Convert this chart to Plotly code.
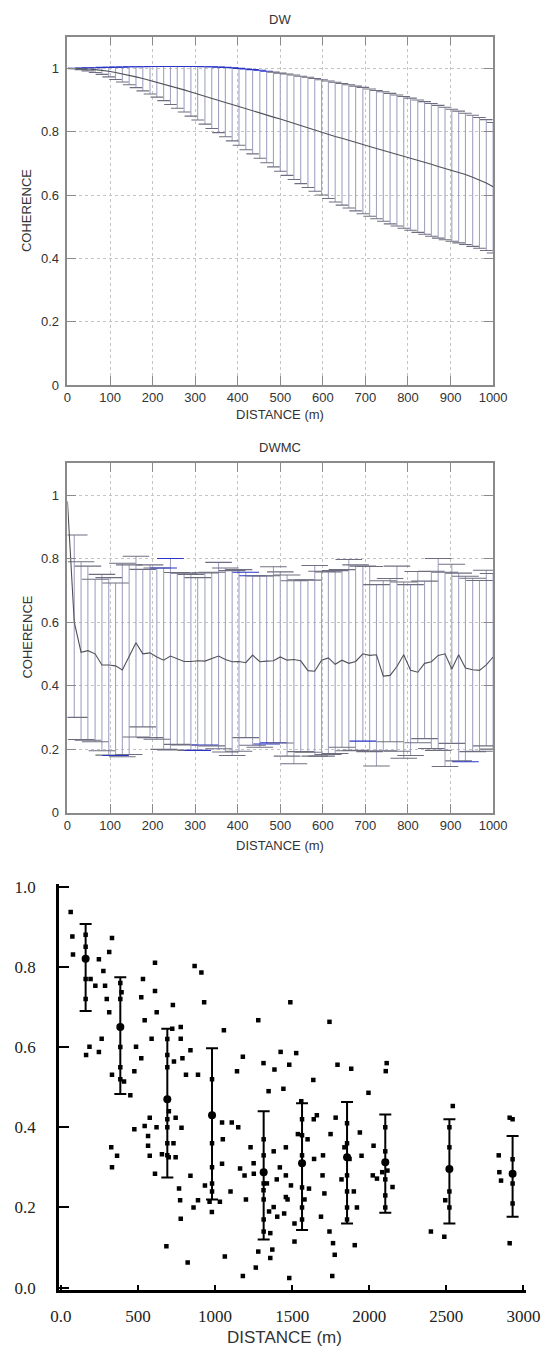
import plotly.graph_objects as go

W, H = 557, 1362

# ---------------- data ----------------
distance = [0, 16, 32, 48, 65, 81, 97, 113, 129, 145, 161, 177, 194, 210, 226, 242,
            258, 274, 290, 306, 323, 339, 355, 371, 387, 403, 419, 435, 452, 468, 484,
            500, 516, 532, 548, 565, 581, 597, 613, 629, 645, 661, 677, 694, 710, 726,
            742, 758, 774, 790, 806, 823, 839, 855, 871, 887, 903, 919, 935, 952, 968,
            984, 1000]

dw_mean = [1.000, 1.000, 0.999, 0.998, 0.996, 0.994, 0.991, 0.987, 0.983, 0.978, 0.973,
           0.968, 0.962, 0.956, 0.950, 0.944, 0.938, 0.932, 0.925, 0.918, 0.912, 0.905,
           0.899, 0.892, 0.886, 0.879, 0.872, 0.866, 0.859, 0.852, 0.846, 0.840, 0.833,
           0.826, 0.819, 0.812, 0.805, 0.798, 0.792, 0.785, 0.779, 0.772, 0.766, 0.759,
           0.753, 0.747, 0.741, 0.734, 0.728, 0.722, 0.716, 0.709, 0.703, 0.697, 0.690,
           0.684, 0.678, 0.671, 0.665, 0.656, 0.648, 0.638, 0.626]
dw_upper = [1.000, 1.000, 1.001, 1.002, 1.002, 1.003, 1.003, 1.004, 1.004, 1.005, 1.005,
            1.005, 1.006, 1.006, 1.006, 1.006, 1.006, 1.006, 1.006, 1.006, 1.005, 1.005,
            1.004, 1.003, 1.002, 1.000, 0.998, 0.996, 0.994, 0.991, 0.988, 0.985, 0.982,
            0.979, 0.975, 0.972, 0.968, 0.964, 0.960, 0.956, 0.952, 0.948, 0.944, 0.940,
            0.935, 0.930, 0.926, 0.921, 0.916, 0.911, 0.906, 0.900, 0.895, 0.889, 0.883,
            0.877, 0.871, 0.865, 0.858, 0.852, 0.845, 0.838, 0.829]
dw_lower = [1.000, 0.999, 0.996, 0.992, 0.987, 0.981, 0.973, 0.965, 0.957, 0.948, 0.939,
            0.929, 0.919, 0.909, 0.898, 0.886, 0.874, 0.862, 0.849, 0.837, 0.824, 0.810,
            0.797, 0.784, 0.771, 0.757, 0.743, 0.730, 0.716, 0.702, 0.689, 0.675, 0.662,
            0.649, 0.636, 0.624, 0.612, 0.600, 0.589, 0.578, 0.568, 0.559, 0.550, 0.541,
            0.533, 0.525, 0.517, 0.509, 0.502, 0.495, 0.489, 0.482, 0.476, 0.470, 0.464,
            0.459, 0.454, 0.449, 0.444, 0.438, 0.432, 0.425, 0.417]

dwmc_mean = [0.98, 0.60, 0.505, 0.51, 0.50, 0.465, 0.465, 0.462, 0.449, 0.49, 0.535,
             0.50, 0.503, 0.49, 0.48, 0.493, 0.485, 0.476, 0.476, 0.478, 0.477, 0.485,
             0.493, 0.482, 0.475, 0.476, 0.472, 0.496, 0.475, 0.477, 0.478, 0.49, 0.48,
             0.482, 0.478, 0.447, 0.445, 0.48, 0.487, 0.467, 0.48, 0.47, 0.476, 0.50,
             0.495, 0.497, 0.43, 0.432, 0.46, 0.497, 0.448, 0.442, 0.47, 0.475, 0.495,
             0.50, 0.452, 0.497, 0.455, 0.45, 0.448, 0.465, 0.49]
dwmc_upper = [0.98, 0.874, 0.79, 0.776, 0.735, 0.75, 0.74, 0.723, 0.785, 0.78, 0.807,
              0.766, 0.78, 0.77, 0.77, 0.80, 0.756, 0.754, 0.75, 0.74, 0.755, 0.757,
              0.788, 0.77, 0.762, 0.765, 0.757, 0.746, 0.745, 0.746, 0.774, 0.758, 0.748,
              0.73, 0.733, 0.732, 0.778, 0.76, 0.758, 0.762, 0.765, 0.797, 0.78, 0.776,
              0.775, 0.718, 0.73, 0.737, 0.776, 0.726, 0.718, 0.759, 0.729, 0.76, 0.80,
              0.757, 0.782, 0.754, 0.744, 0.738, 0.731, 0.763, 0.753]
dwmc_lower = [0.98, 0.30, 0.23, 0.228, 0.223, 0.195, 0.181, 0.18, 0.176, 0.183, 0.238,
              0.27, 0.236, 0.231, 0.199, 0.197, 0.215, 0.213, 0.196, 0.196, 0.213, 0.21,
              0.201, 0.191, 0.18, 0.193, 0.236, 0.212, 0.206, 0.216, 0.22, 0.219, 0.178,
              0.154, 0.192, 0.19, 0.178, 0.178, 0.183, 0.186, 0.206, 0.195, 0.196, 0.225,
              0.192, 0.147, 0.195, 0.223, 0.193, 0.171, 0.18, 0.22, 0.233, 0.202, 0.196,
              0.145, 0.218, 0.163, 0.16, 0.192, 0.193, 0.21, 0.20]

# scanned panel: binned means with ranges
bin_dist = [160, 385, 690, 980, 1315, 1564, 1856, 2104, 2520, 2930]
bin_mean = [0.82, 0.65, 0.47, 0.43, 0.288, 0.31, 0.325, 0.313, 0.296, 0.284]
bin_hi = [0.907, 0.774, 0.646, 0.597, 0.44, 0.46, 0.463, 0.432, 0.42, 0.378]
bin_lo = [0.69, 0.483, 0.275, 0.22, 0.12, 0.144, 0.16, 0.187, 0.16, 0.177]

# individual pair coherences (scattered)
pt_dist = [63, 74, 78, 246, 331, 313, 275, 192, 223, 286, 393, 297, 313, 264, 185, 163,
           246, 331, 409, 487, 476, 521, 532, 521, 610, 610, 543, 588, 621, 726, 722,
           777, 777, 733, 788, 840, 889, 811, 867, 911, 929, 1057, 1142, 1180, 1280,
           1314, 1347, 1385, 1425, 1481, 1488, 1443, 1526, 1559, 1637, 1742, 1794, 1883,
           1995, 2113, 2107, 2542,
           326, 364, 331, 476, 543, 576, 565, 565, 576, 610, 655, 699, 684, 744, 744, 782,
           766, 773, 777, 840, 822, 889, 934, 964, 979, 1031, 1045, 1108, 1045, 1063,
           1162, 1191, 1180, 1251, 1264, 1280, 1358, 1371, 1314, 1336, 1380, 1403, 1358,
           1448, 1459, 1492, 1459, 1459, 1515, 1515, 1537, 1481, 1609, 1642, 1697, 1709,
           1687, 1742, 1765, 1776, 1760, 1749, 1782, 1839, 1872, 1906, 1939, 1950, 2028,
           2023, 2050, 2118, 2151, 2084, 2493, 2487, 2844, 2855, 2911, 2911,
           1380, 1420, 1400, 1700, 1640, 1820, 1920, 1230, 1200, 1100, 860, 730, 620,
           1350, 1470, 2400, 2840, 1600, 1660, 1900, 1250, 1050, 700, 450, 1150, 1580]
pt_coh = [0.937, 0.876, 0.831, 0.819, 0.872, 0.837, 0.79, 0.77, 0.753, 0.753, 0.737,
          0.72, 0.687, 0.621, 0.601, 0.58, 0.588, 0.531, 0.514, 0.601, 0.54, 0.572, 0.77,
          0.724, 0.81, 0.74, 0.667, 0.621, 0.687, 0.705, 0.646, 0.65, 0.621, 0.564, 0.572,
          0.592, 0.531, 0.531, 0.802, 0.786, 0.712, 0.642, 0.54, 0.576, 0.667, 0.56, 0.49,
          0.544, 0.588, 0.556, 0.712, 0.496, 0.585, 0.465, 0.518, 0.663, 0.556, 0.546,
          0.486, 0.56, 0.54, 0.453,
          0.35, 0.329, 0.30, 0.395, 0.403, 0.424, 0.378, 0.354, 0.329, 0.284, 0.333, 0.325,
          0.103, 0.424, 0.325, 0.399, 0.247, 0.218, 0.172, 0.279, 0.063, 0.218, 0.255,
          0.214, 0.189, 0.214, 0.412, 0.412, 0.309, 0.078, 0.297, 0.28, 0.029, 0.284, 0.05,
          0.09, 0.074, 0.095, 0.243, 0.26, 0.201, 0.177, 0.136, 0.185, 0.226, 0.255, 0.28,
          0.35, 0.16, 0.115, 0.383, 0.024, 0.247, 0.321, 0.28, 0.235, 0.177, 0.14, 0.111,
          0.082, 0.029, 0.383, 0.424, 0.35, 0.321, 0.106, 0.387, 0.329, 0.354, 0.28, 0.272,
          0.292, 0.251, 0.288, 0.218, 0.127, 0.288, 0.267, 0.111, 0.424,
          0.34, 0.30, 0.27, 0.33, 0.42, 0.27, 0.20, 0.35, 0.22, 0.24, 0.20, 0.36, 0.40,
          0.19, 0.22, 0.14, 0.33, 0.37, 0.43, 0.24, 0.31, 0.37, 0.44, 0.48, 0.40, 0.22]

# points lying on the binned ranges
onbar_dist = [160, 160, 160, 160, 385, 385, 385, 385, 385, 690, 690, 690, 690, 690, 690,
              690, 980, 980, 980, 980, 980, 1315, 1315, 1315, 1315, 1315, 1315, 1564, 1564,
              1564, 1564, 1564, 1564, 1856, 1856, 1856, 1856, 1856, 1856, 2104, 2104, 2104,
              2104, 2104, 2520, 2520, 2520, 2520, 2930, 2930, 2930, 2930]
onbar_coh = [0.88, 0.85, 0.77, 0.72, 0.76, 0.72, 0.60, 0.55, 0.52, 0.62, 0.58, 0.55, 0.42,
             0.40, 0.36, 0.33, 0.52, 0.36, 0.30, 0.26, 0.24, 0.37, 0.33, 0.26, 0.22, 0.17,
             0.14, 0.42, 0.38, 0.33, 0.25, 0.20, 0.17, 0.41, 0.36, 0.28, 0.24, 0.20, 0.17,
             0.40, 0.34, 0.27, 0.23, 0.20, 0.40, 0.35, 0.24, 0.20, 0.42, 0.32, 0.26, 0.21]

x_ticks_top = [0, 100, 200, 300, 400, 500, 600, 700, 800, 900, 1000]
y_ticks_top = [0, 0.2, 0.4, 0.6, 0.8, 1.0]
y_labels_top = ["0", "0.2", "0.4", "0.6", "0.8", "1"]
x_ticks_scan = [0, 500, 1000, 1500, 2000, 2500, 3000]
x_labels_scan = ["0.0", "500", "1000", "1500", "2000", "2500", "3000"]
y_ticks_scan = [0.0, 0.2, 0.4, 0.6, 0.8, 1.0]
y_labels_scan = ["0.0", "0.2", "0.4", "0.6", "0.8", "1.0"]


def px(x):
    return x / W


def py(y):
    return 1 - y / H


BAR_COL = "#a3a3c2"
CAP_COL = "#6e6e80"
MEAN_COL = "#505058"
BLUE = "#2a35c8"

fig = go.Figure()


def add_errpanel(xa, ya, mean, upper, lower, capsize, upper_cap_cols, lower_cap_cols):
    fig.add_trace(go.Scatter(
        x=distance, y=mean, mode="markers", xaxis=xa, yaxis=ya,
        marker=dict(size=1, color="rgba(0,0,0,0)"),
        error_y=dict(type="data", symmetric=False,
                     array=[u - m for u, m in zip(upper, mean)],
                     arrayminus=[m - l for m, l in zip(mean, lower)],
                     width=0, thickness=1.1, color=BAR_COL),
        showlegend=False, hoverinfo="skip"))
    fig.add_trace(go.Scatter(
        x=distance[1:], y=upper[1:], mode="markers", xaxis=xa, yaxis=ya,
        marker=dict(symbol="line-ew", size=capsize,
                    line=dict(color=upper_cap_cols[1:], width=1.1)),
        showlegend=False, hoverinfo="skip"))
    fig.add_trace(go.Scatter(
        x=distance[1:], y=lower[1:], mode="markers", xaxis=xa, yaxis=ya,
        marker=dict(symbol="line-ew", size=capsize,
                    line=dict(color=lower_cap_cols[1:], width=1.1)),
        showlegend=False, hoverinfo="skip"))
    fig.add_trace(go.Scatter(
        x=distance, y=mean, mode="lines", xaxis=xa, yaxis=ya,
        line=dict(color=MEAN_COL, width=1.1),
        showlegend=False, hoverinfo="skip"))


n = len(distance)
dw_up_cols = [BLUE if d <= 470 else CAP_COL for d in distance]
add_errpanel("x", "y", dw_mean, dw_upper, dw_lower, 9, dw_up_cols, [CAP_COL] * n)

blue_up = {14, 15, 26, 27}
blue_lo = {7, 19, 20, 29, 30, 43, 58}
mc_up_cols = [BLUE if i in blue_up else CAP_COL for i in range(n)]
mc_lo_cols = [BLUE if i in blue_lo else CAP_COL for i in range(n)]
add_errpanel("x2", "y2", dwmc_mean, dwmc_upper, dwmc_lower, 19, mc_up_cols, mc_lo_cols)

# scanned panel
fig.add_trace(go.Scatter(
    x=bin_dist, y=bin_mean, mode="markers", xaxis="x3", yaxis="y3",
    marker=dict(symbol="circle", size=8, color="black"),
    error_y=dict(type="data", symmetric=False,
                 array=[h - m for h, m in zip(bin_hi, bin_mean)],
                 arrayminus=[m - l for m, l in zip(bin_mean, bin_lo)],
                 width=6, thickness=2, color="black"),
    showlegend=False, hoverinfo="skip"))
fig.add_trace(go.Scatter(
    x=onbar_dist, y=onbar_coh, mode="markers", xaxis="x3", yaxis="y3",
    marker=dict(symbol="square", size=4.5, color="black"),
    showlegend=False, hoverinfo="skip"))
fig.add_trace(go.Scatter(
    x=pt_dist, y=pt_coh, mode="markers", xaxis="x3", yaxis="y3",
    marker=dict(symbol="square", size=4.5, color="black"),
    showlegend=False, hoverinfo="skip"))

TXT = "#333333"
sans = "Liberation Sans"
serif = "Times New Roman, Liberation Serif, serif"

common_x = dict(range=[0, 1000], tickvals=x_ticks_top, showgrid=True, gridcolor="#c4c4c4",
                griddash="dot", gridwidth=1, showline=True, linecolor="#8a8a8a", linewidth=1.5,
                mirror="allticks", ticks="inside", ticklen=9, tickcolor="#8a8a8a",
                tickfont=dict(family=sans, size=13, color=TXT), zeroline=False,
                domain=[px(62), px(506)])
common_y = dict(range=[0, 1.1], tickvals=y_ticks_top, ticktext=y_labels_top, showgrid=True,
                gridcolor="#c4c4c4", griddash="dot", gridwidth=1, showline=True,
                linecolor="#8a8a8a", linewidth=1.5, mirror="allticks", ticks="inside",
                ticklen=9, tickcolor="#8a8a8a", ticklabelstandoff=4,
                tickfont=dict(family=sans, size=13, color=TXT), zeroline=False)

fig.update_layout(
    width=W, height=H, margin=dict(l=0, r=0, t=0, b=0),
    paper_bgcolor="white", plot_bgcolor="white",
    xaxis=dict(common_x, anchor="y"),
    yaxis=dict(common_y, anchor="x", domain=[py(383), py(31)]),
    xaxis2=dict(common_x, anchor="y2"),
    yaxis2=dict(common_y, anchor="x2", domain=[py(815), py(462)]),
    xaxis3=dict(range=[-14, 3015], tickvals=x_ticks_scan, ticktext=x_labels_scan,
                showgrid=False, zeroline=False, showline=True, linecolor="black",
                linewidth=2.5, ticks="inside", ticklen=5, tickwidth=2, tickcolor="black",
                tickfont=dict(family=serif, size=17, color="#222"), anchor="y3",
                domain=[px(53), px(540)], ticklabelstandoff=9),
    yaxis3=dict(range=[-0.005, 1.007], tickvals=y_ticks_scan, ticktext=y_labels_scan,
                showgrid=False, zeroline=False, showline=True, linecolor="black",
                linewidth=2.5, ticks="inside", ticklen=10, tickwidth=2, tickcolor="black",
                tickfont=dict(family=serif, size=17, color="#222"), anchor="x3",
                domain=[py(1297), py(887)], ticklabelstandoff=17),
)

ann = [
    dict(text="DW", x=px(284), y=py(14), size=13, font=sans),
    dict(text="DISTANCE (m)", x=px(284), y=py(413), size=13, font=sans),
    dict(text="COHERENCE", x=px(20), y=py(207), size=13, font=sans, rot=-90),
    dict(text="DWMC", x=px(284), y=py(446), size=13, font=sans),
    dict(text="DISTANCE (m)", x=px(284), y=py(848), size=13, font=sans),
    dict(text="COHERENCE", x=px(20), y=py(638), size=13, font=sans, rot=-90),
    dict(text="DISTANCE (m)", x=px(288), y=py(1345), size=17, font=sans),
]
for a in ann:
    fig.add_annotation(text=a["text"], x=a["x"], y=a["y"], xref="paper", yref="paper",
                       xanchor="center", yanchor="middle", showarrow=False,
                       textangle=a.get("rot", 0),
                       font=dict(family=a["font"], size=a["size"], color=TXT))

fig.write_html("out.html")
